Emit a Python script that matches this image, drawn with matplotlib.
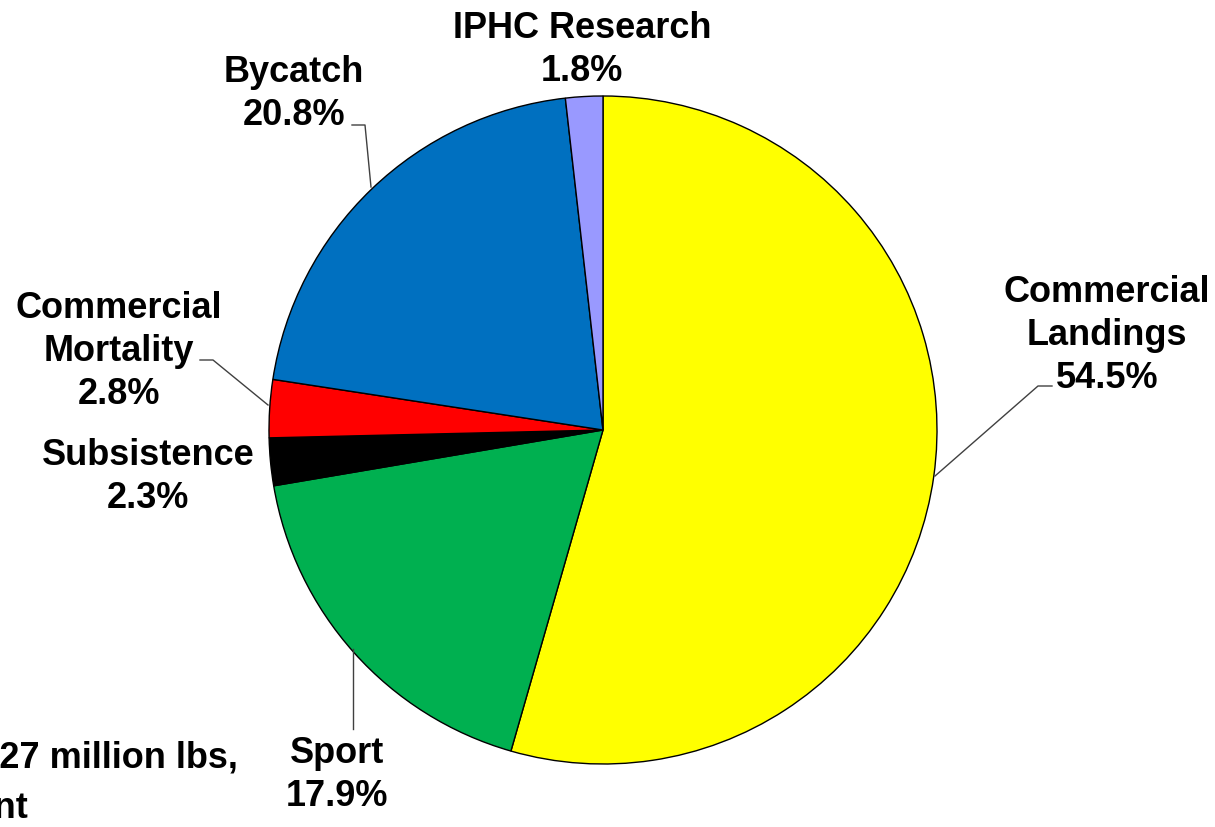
import numpy as np
import matplotlib
matplotlib.use("Agg")
import matplotlib.pyplot as plt

# slices, clockwise from 12 o'clock
names = ["Commercial\nLandings", "Sport", "Subsistence",
         "Commercial\nMortality", "Bycatch", "IPHC Research"]
values = [54.5, 17.9, 2.3, 2.8, 20.8, 1.8]
colors = ["#FFFF00", "#00B050", "#000000", "#FF0000", "#0070C0", "#9999FF"]

# label anchor (center x, baseline of first line) in pixels
label_pos = [(1107, 302), (337, 763), (148, 465), (119, 318), (294, 82), (582, 38)]
# leader lines in pixels, None for no line
leaders = [
    [(1052, 387), (1038, 387), (935, 477)],
    [(353, 730), (353, 650)],
    None,
    [(200, 361), (213, 361), (268, 406)],
    [(352, 126), (365, 126), (371, 188)],
    None,
]

total_lines = ["Total removals = 38.27 million lbs,", "net weight equivalent"]

W, H = 1215, 828
fig = plt.figure(figsize=(W / 100, H / 100), dpi=100)
ax = fig.add_axes([0, 0, 1, 1])

# pixel coords, y pointing down -> counterclock=True draws clockwise on screen
ax.pie(values, colors=colors, startangle=-90, counterclock=True,
       center=(603, 431), radius=334,
       wedgeprops=dict(edgecolor="black", linewidth=1.0))
ax.set_xlim(0, W)
ax.set_ylim(H, 0)
ax.axis("off")

font = dict(family=["Liberation Sans", "DejaVu Sans"], fontweight="bold",
            fontsize=26, color="black")
step = 43

for name, val, (x, y), lead in zip(names, values, label_pos, leaders):
    lines = name.split("\n") + ["%.1f%%" % val]
    for i, line in enumerate(lines):
        ax.text(x, y + i * step, line, ha="center", va="baseline", **font)
    if lead is not None:
        xs, ys = zip(*lead)
        ax.plot(xs, ys, color="#404040", linewidth=1.0)

ax.text(238, 768, total_lines[0], ha="right", va="baseline", **font)
ax.text(28, 818, total_lines[1], ha="right", va="baseline", **font)

fig.savefig("out.png", dpi=100, facecolor="white")
